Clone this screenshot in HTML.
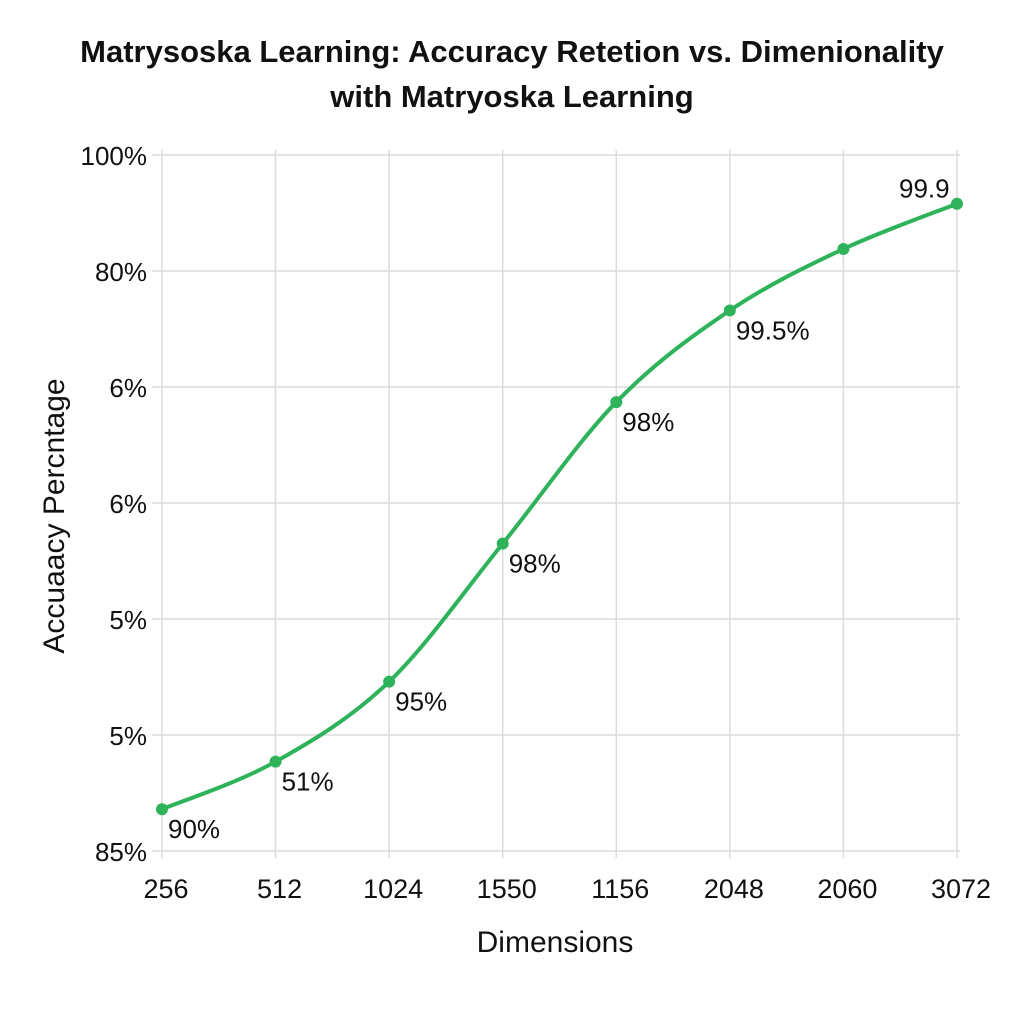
<!DOCTYPE html>
<html><head><meta charset="utf-8"><style>
body{margin:0;background:#fff;width:1024px;height:1024px;overflow:hidden}
svg text{font-family:"Liberation Sans",sans-serif;fill:#111}
</style></head><body>
<svg id="chart" width="1024" height="1024" viewBox="0 0 1024 1024">
<text x="512" y="62" text-anchor="middle" font-size="31" font-weight="bold">Matrysoska Learning: Accuracy Retetion vs. Dimenionality</text>
<text x="512" y="107" text-anchor="middle" font-size="31" font-weight="bold">with Matryoska Learning</text>
<g id="grid"></g><g id="axes"></g><g id="series"></g>
<text x="555" y="952" text-anchor="middle" font-size="30">Dimensions</text>
<text transform="translate(64,516) rotate(-90)" text-anchor="middle" font-size="30">Accuaacy Percntage</text>
</svg>
<script>
const categories=["256","512","1024","1550","1156","2048","2060","3072"];
const values=[0.36,0.77,1.46,2.65,3.87,4.66,5.19,5.58];
const pointLabels=["90%","51%","95%","98%","98%","99.5%","","99.9"];
const yTickLabels=["85%","5%","5%","6%","6%","80%","100%"];
const NS="http://www.w3.org/2000/svg";
const x0=162,x1=957,y0=851,y1=155;
const xs=i=>x0+i*(x1-x0)/(categories.length-1);
const ys=v=>y0-v*(y0-y1)/6;
function mk(t,a,p){const e=document.createElementNS(NS,t);for(const k in a)e.setAttribute(k,a[k]);p.appendChild(e);return e;}
const grid=document.getElementById('grid'),axes=document.getElementById('axes'),ser=document.getElementById('series');
yTickLabels.forEach((l,i)=>{
 const g=mk('line',{x1:152,x2:960,y1:ys(i),y2:ys(i),stroke:'#dcdcdc','stroke-width':1.5},grid);
 
 
 const t=mk('text',{x:147,y:ys(i)+10,'text-anchor':'end','font-size':26},axes);t.textContent=l;
 
 
});
categories.forEach((c,i)=>{
 const g=mk('line',{x1:xs(i),x2:xs(i),y1:150,y2:858,stroke:'#dcdcdc','stroke-width':1.5},grid);
 
 
 const t=mk('text',{x:xs(i)+4,y:898,'text-anchor':'middle','font-size':27},axes);t.textContent=c;
 
 
});
const pts=values.map((v,i)=>[xs(i),ys(v)]);
let d='M'+pts[0][0]+','+pts[0][1];
for(let i=0;i<pts.length-1;i++){
 const p0=pts[Math.max(0,i-1)],p1=pts[i],p2=pts[i+1],p3=pts[Math.min(pts.length-1,i+2)];
 const c1=[p1[0]+(p2[0]-p0[0])/6,p1[1]+(p2[1]-p0[1])/6],c2=[p2[0]-(p3[0]-p1[0])/6,p2[1]-(p3[1]-p1[1])/6];
 d+=` C${c1[0]},${c1[1]} ${c2[0]},${c2[1]} ${p2[0]},${p2[1]}`;
}
const line=mk('path',{d:d,fill:'none',stroke:'#2eb35a','stroke-width':4},ser);


pts.forEach((p,i)=>{
 const c=mk('circle',{cx:p[0],cy:p[1],r:6,fill:'#2eb35a'},ser);
 
 
 if(pointLabels[i]){
  const last=i===pts.length-1;
  const t=mk('text',{x:last?p[0]-58:p[0]+6,y:last?p[1]-6:p[1]+29,'font-size':26},ser);t.textContent=pointLabels[i];
  
  
 }
});
</script>
</body></html>
